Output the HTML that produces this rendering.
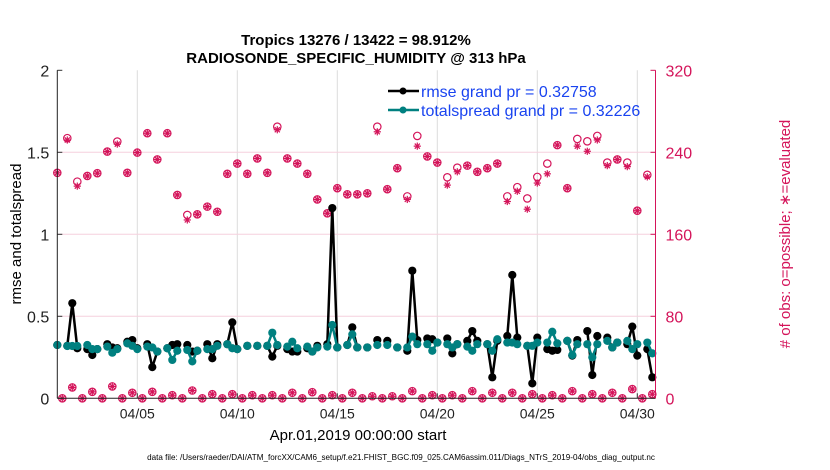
<!DOCTYPE html>
<html><head><meta charset="utf-8"><style>
body{margin:0;background:#fff;}
svg{display:block;font-family:"Liberation Sans",Arial,sans-serif;}
</style></head><body>
<svg id="chart" width="830" height="470" viewBox="0 0 830 470" xmlns="http://www.w3.org/2000/svg">
<g id="grid"></g>
<g id="marks"></g>
<g id="axes"></g>
<text x="356" y="45" text-anchor="middle" font-size="15" font-weight="bold">Tropics 13276 / 13422 = 98.912%</text>
<text x="356" y="63" text-anchor="middle" font-size="15" font-weight="bold">RADIOSONDE_SPECIFIC_HUMIDITY @ 313 hPa</text>
<text transform="translate(21,234) rotate(-90)" text-anchor="middle" font-size="15">rmse and totalspread</text>
<text transform="translate(790,234) rotate(-90)" text-anchor="middle" font-size="15" fill="#d4145a"># of obs: o=possible; ∗=evaluated</text>
<text x="358" y="440" text-anchor="middle" font-size="15">Apr.01,2019 00:00:00 start</text>
<text x="401" y="460" text-anchor="middle" font-size="8.1">data file: /Users/raeder/DAI/ATM_forcXX/CAM6_setup/f.e21.FHIST_BGC.f09_025.CAM6assim.011/Diags_NTrS_2019-04/obs_diag_output.nc</text>
<g>
<line x1="388" y1="91" x2="419" y2="91" stroke="#000" stroke-width="2.5"/>
<circle cx="403" cy="91" r="3.5" fill="#000"/>
<text x="421" y="97" font-size="16" fill="#1a44f0">rmse grand pr = 0.32758</text>
<line x1="388" y1="110" x2="419" y2="110" stroke="#008080" stroke-width="2.5"/>
<circle cx="403" cy="110" r="3.5" fill="#008080"/>
<text x="421" y="116" font-size="16" fill="#1a44f0">totalspread grand pr = 0.32226</text>
</g>
</svg>
<script>
const N = null;
const binLabels = ["04/05","04/10","04/15","04/20","04/25","04/30"];
const binDays = [4,9,14,19,24,29];
const leftTicks = [0,0.5,1,1.5,2];
const rightTicks = [0,80,160,240,320];
// rmse / totalspread per 6-hour bin (k = 0..119)
const rmse = [.325,N,.32,.58,.305,N,.30,.264,.30,N,.33,.31,.305,N,.345,.355,.305,N,.33,.19,.285,N,.305,.325,.33,N,.325,.285,.29,N,.33,.244,.33,N,.33,.463,.30,N,.32,N,.32,N,.32,.254,.32,N,.30,.285,.285,N,.305,.285,.32,N,.33,1.16,.31,N,.325,.433,.31,N,.31,N,.355,N,.35,N,.31,N,.29,.778,.355,N,.365,.36,.34,N,.365,.274,.33,N,.35,.41,.35,N,.33,.128,.35,N,.38,.752,.37,N,.32,.091,.37,N,.30,.29,.295,N,.35,.26,.355,N,.41,.142,.38,N,.37,.31,.34,N,.33,.437,.26,N,.30,.128];
const spread = [.325,N,.319,.319,.319,N,.325,.30,.30,N,.315,.278,.30,N,.335,.32,.30,N,.315,.31,.285,N,.305,.234,.29,N,.295,.225,.29,N,.30,.30,.32,N,.33,.305,.30,N,.32,N,.32,N,.32,.40,.325,N,.315,.345,.305,N,.315,.285,.31,N,.315,.447,.31,N,.325,.39,.31,N,.31,N,.325,N,.325,N,.31,N,.31,.376,.33,N,.33,.29,.34,N,.33,.31,.33,N,.315,.29,.33,N,.33,.29,.36,N,.34,.34,.33,N,.32,.32,.34,N,.34,.406,.335,N,.35,.264,.33,N,.33,.25,.33,N,.35,.31,.34,N,.35,.30,.33,N,.34,.274];
// obs counts at 00Z/12Z bins (even k)
const possibleMain = [220,253.8,211.4,216.9,219.6,240.7,250.5,220,239.7,258.6,233,258.6,198.4,178.9,179.5,187,182,219,229,219,234,220,265,234,229,219,194,180.5,205,199,199,200,265,204,224.5,197,256,236,230,215.6,225,227,221,224.5,229,197,206,195,216,229,247,205,253,250.7,256,230,233,230,183,218];
const evaluatedMain = [220,252,207,216.9,219.6,240.7,248,220,239.7,258.6,233,258.6,198.4,174,179.5,187,182,219,229,219,234,220,262,234,229,219,194,180.5,205,199,199,200,260,204,224.5,194,246,236,230,208,221,227,221,224.5,229,192,202,184.5,210,219,247,205,246,241,252,227,233,226,183,216];
// obs counts at 06Z/18Z bins (odd k)
const countsOff = [0,10.6,0,6.3,0,11.6,0,5.4,0,6.3,0,3,0,7.6,0,4,0,4,0,3,0,3,0,5.4,0,6,0,3,0,5.4,0,2,0,2,0,7,0,3,0,3,0,7,0,5.4,0,5.4,0,4,0,3,0,7,0,4,0,5.4,0,9,0,4];

const X0=57.3, PX_PER_BIN=5, Y0=398.3, PLOT_H=328, XR=655.5, YT=70.3;
const xOfBin = k => X0 + k*PX_PER_BIN;
const xOfDay = d => X0 + d*4*PX_PER_BIN;
const yL = v => Y0 - v/2*PLOT_H;
const yR = c => Y0 - c/320*PLOT_H;
const NS="http://www.w3.org/2000/svg";
function mk(tag, attrs, parent){const e=document.createElementNS(NS,tag);for(const a in attrs)e.setAttribute(a,attrs[a]);parent.appendChild(e);return e;}
const grid=document.getElementById('grid'), marks=document.getElementById('marks'), axes=document.getElementById('axes');
const CR="#d4145a";

binDays.forEach((d,i)=>{
  const g=mk('line',{x1:xOfDay(d),x2:xOfDay(d),y1:YT,y2:Y0,stroke:"#dcdcdc","stroke-width":1},grid);
  
  
  const t=mk('line',{x1:xOfDay(d),x2:xOfDay(d),y1:Y0,y2:Y0-5,stroke:"#333"},axes);
  
  
  const l=mk('text',{x:xOfDay(d),y:Y0+20,"text-anchor":"middle","font-size":14,fill:"#222"},axes);
  l.textContent=binLabels[i];
  
  
});
rightTicks.forEach((c,i)=>{
  if(c>0 && c<320){
    const g=mk('line',{x1:X0,x2:XR,y1:yR(c),y2:yR(c),stroke:"#f6d0de","stroke-width":1},grid);
    
    
  }
  const t=mk('line',{x1:XR,x2:XR-5,y1:yR(c),y2:yR(c),stroke:CR},axes);
  
  
  const l=mk('text',{x:XR+10,y:yR(c)+6,"font-size":16,fill:CR},axes);
  l.textContent=c;
  
  
});
leftTicks.forEach(v=>{
  const t=mk('line',{x1:X0,x2:X0+5,y1:yL(v),y2:yL(v),stroke:"#333"},axes);
  
  
  const l=mk('text',{x:X0-8,y:yL(v)+6,"text-anchor":"end","font-size":16,fill:"#222"},axes);
  l.textContent=String(v);
  
  
});
let a=mk('line',{x1:X0,x2:X0,y1:YT,y2:Y0,stroke:"#222","stroke-width":1},axes);


a=mk('line',{x1:X0,x2:XR,y1:Y0,y2:Y0,stroke:"#222","stroke-width":1},axes);


a=mk('line',{x1:XR,x2:XR,y1:YT,y2:Y0,stroke:CR,"stroke-width":1},axes);



function star(x,y,parent,name){
  const g=mk('g',{stroke:CR,"stroke-width":1.2},parent);
  
  
  const r=3.6;
  for(let i=0;i<4;i++){const an=i*Math.PI/4;mk('line',{x1:x-r*Math.cos(an),y1:y-r*Math.sin(an),x2:x+r*Math.cos(an),y2:y+r*Math.sin(an)},g);}
}
possibleMain.forEach((c,i)=>{
  const x=xOfBin(2*i);
  const ci=mk('circle',{cx:x,cy:yR(c),r:3.7,fill:"none",stroke:CR,"stroke-width":1.2},marks);
  
  
  star(x,yR(evaluatedMain[i]),marks,'evaluated-marker');
});
countsOff.forEach((c,j)=>{
  const x=xOfBin(2*j+1);
  const ci=mk('circle',{cx:x,cy:yR(c),r:3.7,fill:"none",stroke:CR,"stroke-width":1.2},marks);
  
  
  star(x,yR(c),marks,'evaluated-marker');
});
function series(vals,color,name){
  let d="",pen=false;
  vals.forEach((v,k)=>{ if(v===null){pen=false;return;} d+=(pen?"L":"M")+xOfBin(k).toFixed(1)+","+yL(v).toFixed(1); pen=true; });
  const p=mk('path',{d:d,fill:"none",stroke:color,"stroke-width":2.5,"stroke-linejoin":"round"},marks);
  
  
  vals.forEach((v,k)=>{ if(v===null)return;
    const c=mk('circle',{cx:xOfBin(k),cy:yL(v),r:4.1,fill:color},marks);
    
    
  });
}
series(rmse,"#000",'rmse');
series(spread,"#008080",'totalspread');
</script>
</body></html>
